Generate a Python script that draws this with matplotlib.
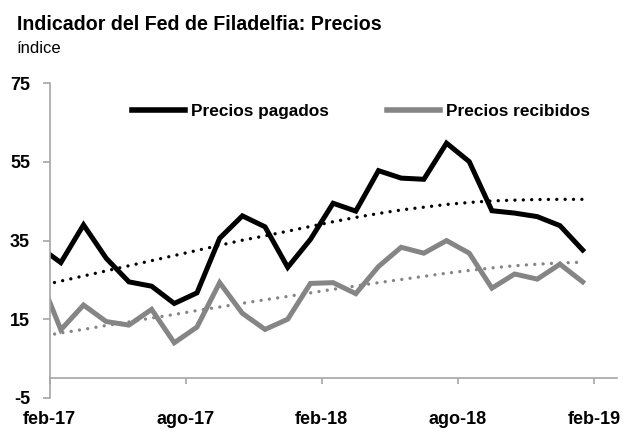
import matplotlib
matplotlib.use('Agg')
import matplotlib.pyplot as plt
import numpy as np

plt.rcParams['font.family'] = ['Liberation Sans', 'DejaVu Sans']
plt.rcParams['axes.unicode_minus'] = False

# Monthly data, ene-17 .. ene-19
months = ['ene-17', 'feb-17', 'mar-17', 'abr-17', 'may-17', 'jun-17', 'jul-17', 'ago-17',
          'sep-17', 'oct-17', 'nov-17', 'dic-17', 'ene-18', 'feb-18', 'mar-18', 'abr-18',
          'may-18', 'jun-18', 'jul-18', 'ago-18', 'sep-18', 'oct-18', 'nov-18', 'dic-18',
          'ene-19']
pagados = [33.6, 29.4, 39.0, 30.5, 24.5, 23.4, 19.0, 21.7, 35.6, 41.3, 38.5, 28.2, 35.3,
           44.5, 42.5, 52.8, 50.9, 50.6, 59.8, 55.1, 42.6, 42.0, 41.1, 38.8, 32.6]
recibidos = [26.7, 12.3, 18.6, 14.4, 13.5, 17.5, 9.0, 13.0, 24.3, 16.5, 12.4, 15.0, 24.1,
             24.3, 21.5, 28.4, 33.3, 31.8, 35.0, 31.8, 22.9, 26.5, 25.2, 29.0, 24.5]
# trend lines (dotted)
tend_pagados = [23.4, 24.7, 26.0, 27.3, 28.6, 29.9, 31.2, 32.5, 33.8, 35.1, 36.2, 37.4,
                38.6, 39.8, 40.9, 41.9, 42.8, 43.5, 44.2, 44.7, 45.1, 45.3, 45.45, 45.5, 45.5]
tend_recibidos = [10.5, 11.5, 12.4, 13.4, 14.3, 15.3, 16.2, 17.2, 18.1, 19.05, 19.95, 20.8,
                  21.7, 22.6, 23.45, 24.3, 25.1, 25.9, 26.7, 27.4, 28.05, 28.6, 29.0, 29.3, 29.5]
tick_labels = ['feb-17', 'ago-17', 'feb-18', 'ago-18', 'feb-19']

# x in months from feb-17; points sit mid-month
x = np.arange(len(months)) - 0.5
tick_pos = [0, 6, 12, 18, 24]

black = '#000000'
gray = '#858585'
axis_gray = '#a6a6a6'

fig = plt.figure(figsize=(6.42, 4.36), dpi=100)
ax = fig.add_axes([49.5 / 642, 1 - 397.8 / 436, 567.2 / 642, 314.4 / 436])

ax.plot(x, pagados, color=black, lw=3.6, solid_joinstyle='miter', label='Precios pagados')
ax.plot(x, recibidos, color=gray, lw=3.6, solid_joinstyle='miter', label='Precios recibidos')

dots = (0, (0.01, 2.5))
ax.plot(x, tend_pagados, color=black, lw=2.4, linestyle=dots, dash_capstyle='round')
ax.plot(x, tend_recibidos, color=gray, lw=2.4, linestyle=dots, dash_capstyle='round')

ax.set_xlim(0, 25)
ax.set_ylim(-5, 75)
ax.set_yticks([75, 55, 35, 15, -5])
ax.set_xticks(tick_pos)
ax.set_xticklabels(tick_labels)

for s in ['top', 'right']:
    ax.spines[s].set_visible(False)
ax.spines['bottom'].set_position(('data', 0))
for s in ['left', 'bottom']:
    ax.spines[s].set_color(axis_gray)
    ax.spines[s].set_linewidth(1.2)

ax.tick_params(axis='y', direction='out', length=5, width=1.2, color=axis_gray, pad=9,
               labelsize=13)
ax.tick_params(axis='x', direction='out', length=4.5, width=1.2, color=axis_gray, pad=19,
               labelsize=13)
for lab in ax.get_xticklabels() + ax.get_yticklabels():
    lab.set_fontweight('bold')

leg = ax.legend(ncol=2, frameon=False, loc='center left',
                bbox_to_anchor=(132 / 642, 1 - 111.7 / 436), bbox_transform=fig.transFigure,
                borderpad=0, borderaxespad=0, handlelength=3.1, handletextpad=0.3,
                columnspacing=3.4, prop={'weight': 'bold', 'size': 12.4})
for h in leg.get_lines():
    h.set_linewidth(4)

fig.text(17 / 642, 1 - 30 / 436, 'Indicador del Fed de Filadelfia: Precios',
         fontsize=14.1, fontweight='bold', va='baseline', ha='left')
fig.text(17 / 642, 1 - 53 / 436, 'índice', fontsize=12, va='baseline', ha='left')

fig.savefig('out.png', dpi=100)
